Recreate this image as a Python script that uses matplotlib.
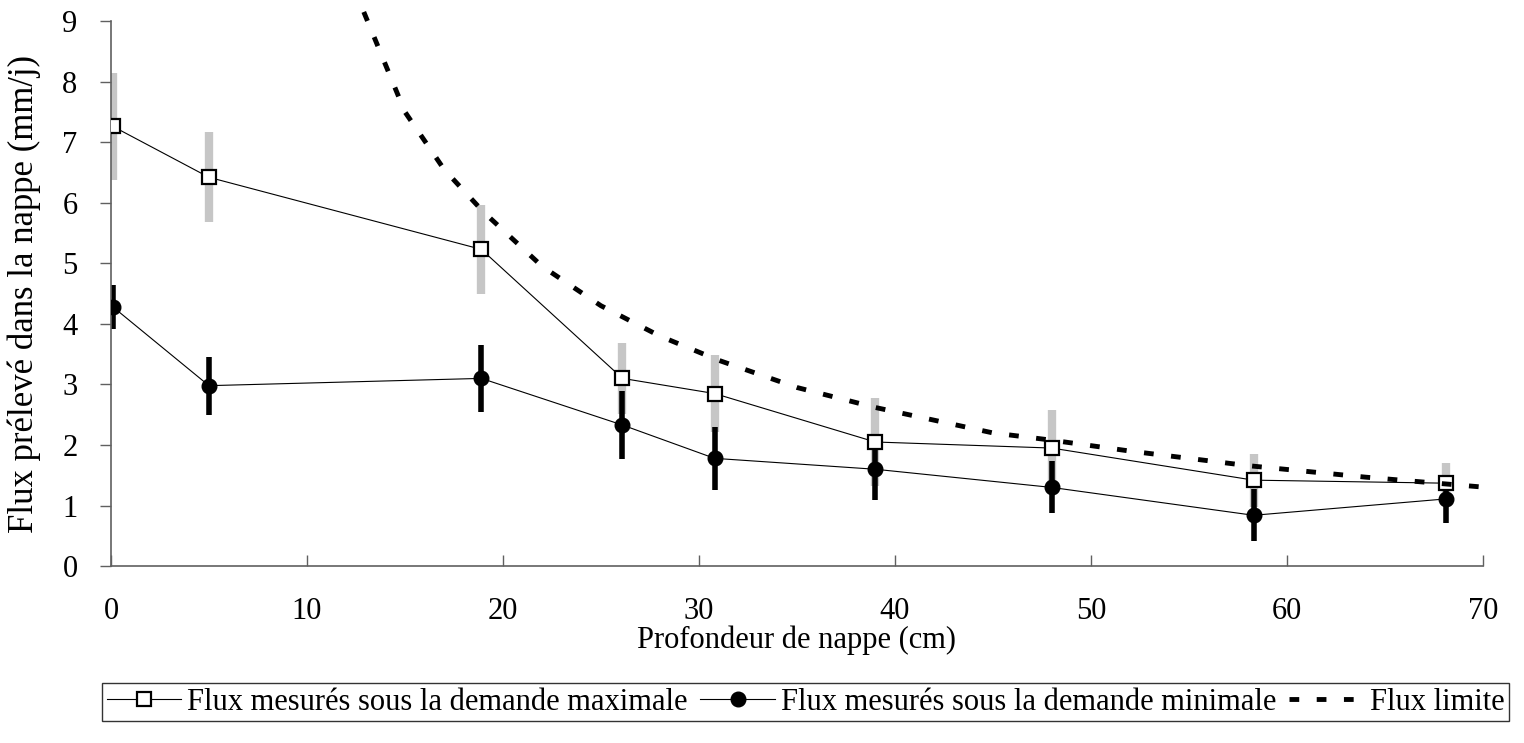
import numpy as np
import matplotlib
matplotlib.use("Agg")
import matplotlib.pyplot as plt

plt.rcParams['font.family'] = ['Liberation Serif', 'DejaVu Serif']

# profondeur de nappe (cm)
depth = [0.1, 5.0, 18.9, 26.1, 30.8, 39.0, 48.0, 58.3, 68.1]

# flux sous demande maximale / minimale (mm/j) et ecarts
flux_max = [7.26, 6.42, 5.23, 3.10, 2.85, 2.05, 1.95, 1.42, 1.37]
err_max = [0.88, 0.74, 0.74, 0.58, 0.63, 0.72, 0.62, 0.44, 0.33]
flux_min = [4.28, 2.98, 3.10, 2.33, 1.78, 1.60, 1.30, 0.84, 1.11]
err_min = [0.36, 0.48, 0.55, 0.56, 0.52, 0.51, 0.43, 0.43, 0.40]

# courbe flux limite
lim_x = [12.9, 15, 17, 19, 22, 25, 28, 31, 35, 39, 45, 48, 52, 58, 64, 70.2]
lim_y = [9.15, 7.5, 6.55, 5.85, 4.95, 4.3, 3.8, 3.4, 2.95, 2.62, 2.2, 2.08, 1.9, 1.66, 1.47, 1.30]

fig = plt.figure(figsize=(15.24, 7.43), dpi=100)
ax = fig.add_axes([0.0728, 0.238, 0.9002, 0.7337])

ax.errorbar(depth, flux_max, yerr=err_max, fmt='none', ecolor='#c6c6c6',
            elinewidth=6.0, capsize=0, zorder=1)
ax.errorbar(depth, flux_min, yerr=err_min, fmt='none', ecolor='black',
            elinewidth=4.0, capsize=0, zorder=2)

l1, = ax.plot(depth, flux_max, '-', color='black', lw=0.8, marker='s',
              ms=9.5, mfc='white', mec='black', mew=1.6, zorder=4,
              label='Flux mesurés sous la demande maximale')
l2, = ax.plot(depth, flux_min, '-', color='black', lw=0.8, marker='o',
              ms=10.5, mfc='black', mec='black', zorder=3,
              label='Flux mesurés sous la demande minimale')
l3, = ax.plot(lim_x, lim_y, color='black', lw=3.5, dashes=(2.0, 3.6),
              dash_capstyle='butt', clip_on=False, zorder=5,
              label='Flux limite')

ax.set_xlim(0, 70)
ax.set_ylim(0, 9)
ax.set_xticks(np.arange(0, 71, 10))
ax.set_yticks(np.arange(0, 10, 1))

for s in ['top', 'right']:
    ax.spines[s].set_visible(False)
for s in ['left', 'bottom']:
    ax.spines[s].set_color('#606060')
    ax.spines[s].set_linewidth(1.2)

ax.tick_params(axis='x', direction='in', length=8, width=1, color='#606060',
               labelsize=22, pad=22)
ax.tick_params(axis='y', direction='out', length=8, width=1, color='#606060',
               labelsize=22, pad=16)

ax.set_xlabel('Profondeur de nappe (cm)', fontsize=22, labelpad=0)
ax.set_ylabel('Flux prélevé dans la nappe (mm/j)', fontsize=25)
ax.yaxis.set_label_coords(-0.051, 0.5)

leg = fig.legend(handles=[l1, l2, l3], loc='center', ncol=3,
                 bbox_to_anchor=(0.5285, 0.055), fontsize=22,
                 frameon=True, fancybox=False, edgecolor='black',
                 handlelength=2.45, handletextpad=0.2, columnspacing=0.4,
                 borderpad=0.15, borderaxespad=0)
leg.get_frame().set_linewidth(1.0)

plt.savefig('out.png', dpi=100)
